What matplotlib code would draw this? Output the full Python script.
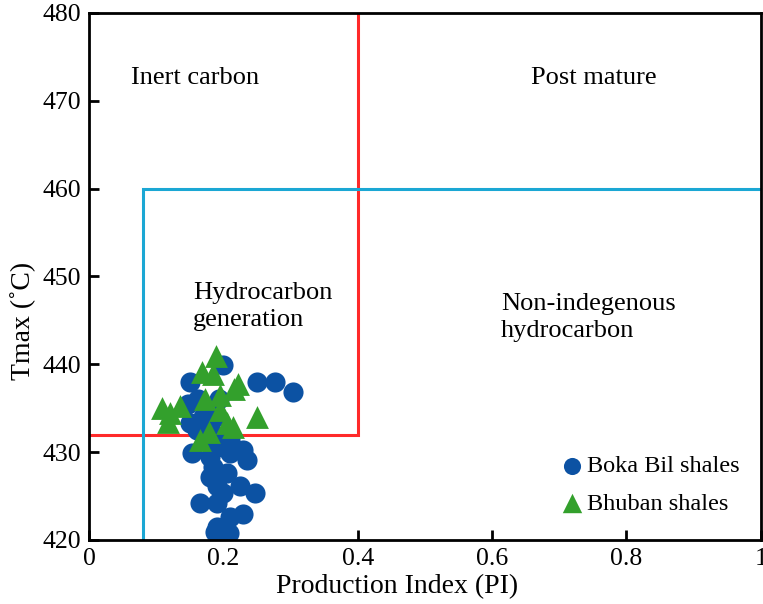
import matplotlib
matplotlib.use("Agg")
import matplotlib.pyplot as plt
from matplotlib.ticker import FixedLocator

# Production Index and Tmax for Boka Bil shales
boka_pi = [0.200, 0.151, 0.250, 0.277, 0.303, 0.163, 0.193, 0.148, 0.151, 0.170,
           0.180, 0.161, 0.195, 0.210, 0.185, 0.200, 0.153, 0.230, 0.235, 0.210,
           0.180, 0.185, 0.180, 0.205, 0.190, 0.225, 0.200, 0.247, 0.165, 0.190,
           0.230, 0.210, 0.190, 0.188, 0.208, 0.175, 0.188]
boka_tmax = [439.9, 438.0, 438.0, 438.0, 436.9, 436.1, 436.1, 435.5, 433.3, 434.0,
             433.1, 432.5, 431.7, 431.4, 430.6, 430.6, 429.9, 430.2, 429.1, 429.9,
             429.5, 428.3, 427.2, 427.6, 426.1, 426.1, 425.3, 425.3, 424.2, 424.2,
             423.0, 422.6, 421.5, 420.9, 420.8, 434.8, 434.0]

# Production Index and Tmax for Bhuban shales
bhuban_pi = [0.189, 0.168, 0.185, 0.222, 0.216, 0.108, 0.121, 0.118, 0.136, 0.173,
             0.195, 0.195, 0.250, 0.205, 0.215, 0.178, 0.165]
bhuban_tmax = [441.0, 439.1, 438.9, 437.8, 437.2, 435.0, 434.4, 433.4, 435.2, 436.1,
               436.5, 434.8, 434.0, 433.3, 432.9, 432.3, 431.4]

# Zone boundaries
red_pi, red_tmax = 0.4, 432
cyan_pi, cyan_tmax = 0.08, 460

x_ticks = [0, 0.2, 0.4, 0.6, 0.8, 1.0]
x_tick_labels = ["0", "0.2", "0.4", "0.6", "0.8", "1"]
y_ticks = [420, 430, 440, 450, 460, 470, 480]

plt.rcParams["font.family"] = ["Liberation Serif", "DejaVu Serif"]

fig = plt.figure(figsize=(7.63, 6.04), dpi=100)
ax = fig.add_axes([0.1166, 0.106, 0.8804, 0.8725])

ax.set_xlim(0, 1)
ax.set_ylim(420, 480)

# zone boundaries
ax.plot([0, red_pi, red_pi], [red_tmax, red_tmax, 480], color="#ff2a2a", lw=2.2,
        solid_joinstyle="miter", zorder=2)
ax.plot([cyan_pi, cyan_pi, 1.0], [420, cyan_tmax, cyan_tmax], color="#1ba7d4", lw=2.2,
        solid_joinstyle="miter", zorder=2)

ax.scatter(boka_pi, boka_tmax, s=210, marker="o", color="#0c52a3", linewidths=0,
           label="Boka Bil shales", zorder=3)
ax.scatter(bhuban_pi, bhuban_tmax, s=270, marker="^", color="#33a02c", linewidths=0,
           label="Bhuban shales", zorder=4)

fs = 19
ax.text(0.158, 472.6, "Inert carbon", fontsize=fs, ha="center", va="center")
ax.text(0.751, 472.6, "Post mature", fontsize=fs, ha="center", va="center")
ax.text(0.155, 446.6, "Hydrocarbon\ngeneration", fontsize=fs, ha="left", va="center",
        linespacing=1.3)
ax.text(0.613, 445.3, "Non-indegenous\nhydrocarbon", fontsize=fs, ha="left", va="center",
        linespacing=1.3)

ax.xaxis.set_major_locator(FixedLocator(x_ticks))
ax.set_xticklabels(x_tick_labels)
ax.yaxis.set_major_locator(FixedLocator(y_ticks))
ax.tick_params(direction="in", length=7, width=2, labelsize=18.5, pad=6)
for sp in ax.spines.values():
    sp.set_linewidth(2)
    sp.set_zorder(5)

ax.set_xlabel("Production Index (PI)", fontsize=20)
ax.set_ylabel("Tmax (\u02daC)", fontsize=20)
ax.xaxis.set_label_coords(0.459, -0.064)
ax.yaxis.set_label_coords(-0.079, 0.416)

ax.legend(loc="lower right", bbox_to_anchor=(0.991, 0.02), frameon=False, fontsize=17.5,
          handletextpad=-0.35, labelspacing=0.65, markerscale=0.85, borderaxespad=0.2)

fig.savefig("out.png", dpi=100)
